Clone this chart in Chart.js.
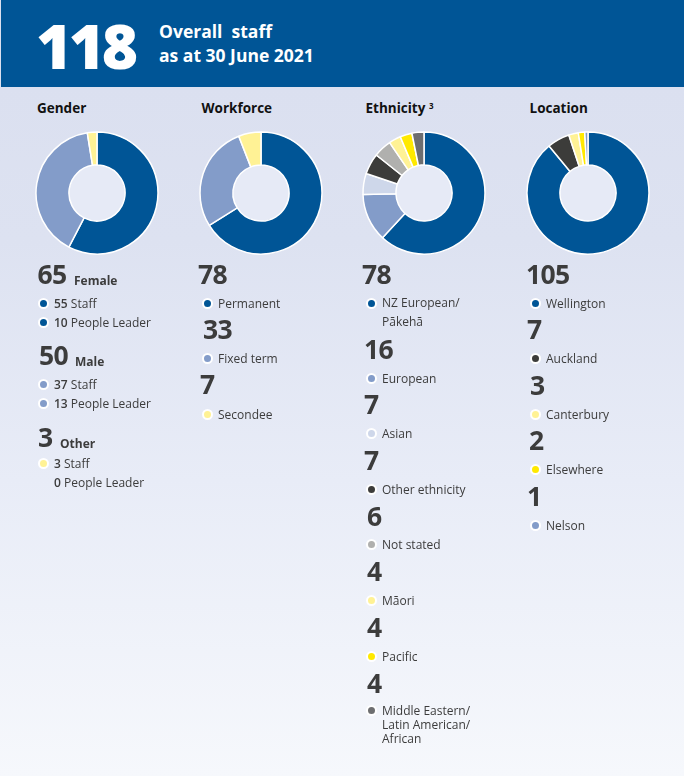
<!DOCTYPE html>
<html><head><meta charset="utf-8">
<script src="https://cdn.jsdelivr.net/npm/chart.js@4"></script>
<style>
html,body{margin:0;padding:0}
body{width:684px;height:776px;overflow:hidden;position:relative;font-family:"Open Sans",sans-serif;color:#3c3c3c;
background:linear-gradient(#dbe0f0 86px,#dde2f1 240px,#e8ecf7 480px,#f6f8fc 776px)}
#hdr{position:absolute;left:1px;top:0;width:683px;height:87px;background:#005596}
.t{position:absolute;white-space:nowrap;line-height:1}
.hole{position:absolute;width:56px;height:56px;border-radius:50%;background:#e6eaf6}
canvas{position:absolute}
.dot{position:absolute;width:7px;height:7px;border-radius:50%;border:2px solid #fff;box-sizing:content-box}
</style></head><body>
<div id="hdr"></div>
<script>
const BLUE="#005596",MID="#839cc9",PALE="#ced7ea",CREAM="#fff295",YEL="#ffe900",DARK="#3c3c3a",GREY="#b0b0ae",SLATE="#6d6e70";

const panelTitles=["Gender","Workforce","Ethnicity","Location"];
// slice sizes as the rings draw them
const genderSlices=[68,47,3];
const workforceValues=[78,33,7];
const ethnicityValues=[78,16,7,7,6,4,4,4];
const locationValues=[105,7,3,2,1];
const genderColors=[BLUE,MID,CREAM];
const workforceColors=[BLUE,MID,CREAM];
const ethnicityColors=[BLUE,MID,PALE,DARK,GREY,CREAM,YEL,SLATE];
const locationColors=[BLUE,DARK,CREAM,YEL,MID];
const genderTotals=["65","50","3"];
const genderNames=["Female","Male","Other"];
const genderLines=[["55","Staff"],["10","People Leader"],["37","Staff"],["13","People Leader"],["3","Staff"],["0","People Leader"]];
const workforceLabels=["Permanent","Fixed term","Secondee"];
const ethnicityLabels=[["NZ European/","Pākehā"],["European"],["Asian"],["Other ethnicity"],["Not stated"],["Māori"],["Pacific"],["Middle Eastern/","Latin American/","African"]];
const locationLabels=["Wellington","Auckland","Canterbury","Elsewhere","Nelson"];

const S=(x,y,size,weight,txt,color,ls)=>{const d=document.createElement('div');d.className='t';
 d.style.cssText=`left:${x}px;top:${y}px;font-size:${size}px;font-weight:${weight};`+(color?`color:${color};`:'')+(ls?`letter-spacing:${ls}px;`:'');
 d.innerHTML=txt;document.body.appendChild(d);return d;};
// y = vertical centre of the text line
const C=(x,y,size,weight,txt,color,ls)=>S(x,y-size/2,size,weight,txt,color,ls);
const dot=(x,y,c)=>{const d=document.createElement('div');d.className='dot';d.style.cssText=`left:${x-5.5}px;top:${y-5.5}px;background:${c}`;document.body.appendChild(d);};

C(36,45,62,800,"118","#fff",-3.5);
C(159,32,17.5,700,"Overall&nbsp; staff","#fff");
C(159,56,17.5,700,"as at 30 June 2021","#fff");

const heads=[37,201.5,365.5,529.5];
panelTitles.forEach((t,i)=>C(heads[i],109,13.5,700,t+(i==2?' <sup style="font-size:8px;vertical-align:4px;line-height:0">3</sup>':''),"#111"));

function ring(cx,vals,cols){
 const h=document.createElement('div');h.className='hole';h.style.left=(cx-28)+'px';h.style.top=(193-28)+'px';document.body.appendChild(h);
 const c=document.createElement('canvas');c.style.left=(cx-64)+'px';c.style.top=(193-64)+'px';c.style.width='128px';c.style.height='128px';c.width=128;c.height=128;document.body.appendChild(c);
 new Chart(c,{type:'doughnut',data:{datasets:[{data:vals,backgroundColor:cols,borderColor:'#fff',borderWidth:1.5}]},
 options:{responsive:false,animation:false,cutout:'46%',radius:61,layout:{padding:0},events:[],plugins:{legend:{display:false},tooltip:{enabled:false}}}});
}
ring(97,genderSlices,genderColors);
ring(260.5,workforceValues,workforceColors);
ring(424,ethnicityValues,ethnicityColors);
ring(588,locationValues,locationColors);

const big=(x,y,t)=>C(x,y-1,26.5,700,t,"#3c3c3c",-0.6);
const lab=(x,y,t)=>C(x,y+.7,12,400,t,"#3c3c3c");
// gender column
const gy=[[275,303,322],[356.5,384,403],[438.5,463,482]],gx=[37.5,39,38],nx=[74,75,60];
genderTotals.forEach((v,i)=>{
 big(gx[i],gy[i][0],v);
 C(nx[i],gy[i][0]+5.7,12,700,genderNames[i]);
 [0,1].forEach(j=>{
  const [n,w]=genderLines[i*2+j],yy=gy[i][j+1];
  if(!(i==2&&j==1))dot(43.5,yy,genderColors[i]);
  lab(54,yy,`<span style="font-weight:600">${n}</span> ${w}`);
 });
});
// workforce column
const wy=[[275,303],[330,358],[385,414]],wx=[198,203,200];
workforceValues.forEach((v,i)=>{big(wx[i],wy[i][0],String(v));dot(207.5,wy[i][1],workforceColors[i]);lab(218,wy[i][1],workforceLabels[i]);});
// ethnicity column
const ey=[275,350,405,461,517,572,628,684],eyl=[303,378,433,489,544.5,600,656,710],ex=[362,364,364,364,367,367,367,367];
ethnicityValues.forEach((v,i)=>{big(ex[i],ey[i],String(v));dot(371.5,eyl[i],ethnicityColors[i]);
 const d=lab(382,eyl[i],ethnicityLabels[i].join('<br>'));
 d.style.lineHeight=(i==0?18.5:14)+'px';d.style.top=(eyl[i]+.7-(i==0?18.5:14)/2)+'px';});
// location column
const ly=[275,330,386,441,497],lyl=[303,358,414,469,525],lx=[526,527,530,529,527];
locationValues.forEach((v,i)=>{big(lx[i],ly[i],String(v));dot(535.5,lyl[i],locationColors[i]);lab(546,lyl[i],locationLabels[i]);});
</script>
</body></html>
